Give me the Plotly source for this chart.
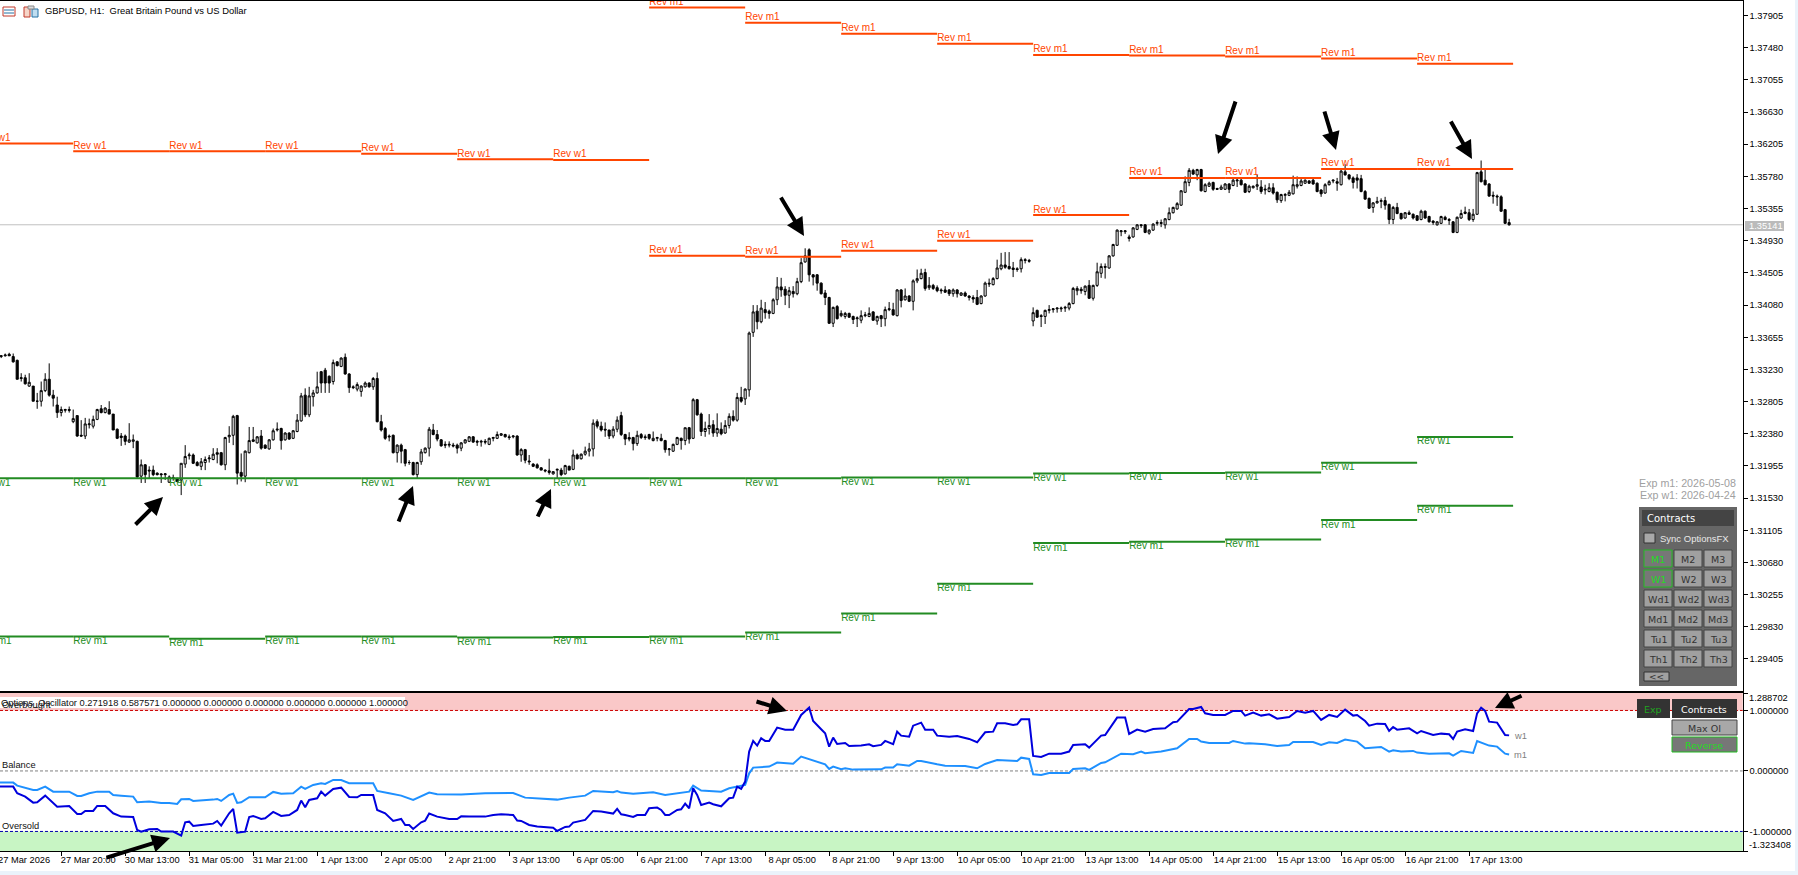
import numpy as np
import plotly.graph_objects as go

W, H = 1798, 875
FONT = "Liberation Sans"
BTN_FONT = "DejaVu Sans"

# H1 candles, bar numbers 0..378, prices in 1/10000
opens = [
    13340,13340,13341,13343,13340,13335,13311,13312,13301,13301,
    13281,13281,13295,13310,13289,13276,13266,13269,13270,13254,
    13262,13236,13235,13250,13248,13257,13271,13266,13270,13264,
    13244,13235,13235,13227,13228,13228,13182,13197,13190,13190,
    13186,13185,13184,13174,13179,13179,13177,13198,13209,13210,
    13200,13195,13200,13205,13204,13213,13213,13197,13234,13236,
    13262,13187,13182,13213,13230,13226,13235,13223,13218,13230,
    13243,13245,13230,13239,13232,13241,13255,13289,13263,13287,
    13292,13320,13322,13314,13307,13333,13327,13339,13317,13300,
    13297,13294,13300,13305,13300,13311,13254,13245,13235,13236,
    13213,13223,13217,13200,13200,13184,13201,13213,13219,13243,
    13237,13230,13224,13223,13223,13223,13219,13226,13228,13234,
    13228,13227,13228,13224,13232,13232,13236,13237,13234,13234,
    13235,13210,13217,13202,13198,13197,13193,13190,13189,13185,
    13190,13190,13185,13195,13191,13210,13205,13211,13215,13218,
    13254,13248,13244,13243,13235,13244,13262,13237,13233,13233,
    13225,13237,13234,13237,13229,13232,13232,13229,13217,13215,
    13224,13232,13229,13246,13232,13283,13264,13241,13245,13250,
    13239,13244,13239,13249,13261,13256,13286,13284,13296,13372,
    13400,13386,13402,13400,13397,13415,13432,13429,13421,13426,
    13423,13439,13465,13481,13448,13448,13437,13424,13418,13384,
    13406,13394,13393,13397,13393,13390,13388,13394,13393,13399,
    13387,13394,13390,13402,13402,13394,13428,13415,13420,13413,
    13440,13443,13451,13431,13434,13431,13428,13428,13428,13423,
    13428,13421,13424,13420,13418,13418,13410,13420,13437,13435,
    13443,13456,13461,13459,13457,13456,13456,13468,13467,13387,
    13401,13394,13393,13401,13402,13403,13403,13404,13404,13410,
    13427,13429,13426,13434,13417,13434,13450,13459,13457,13473,
    13487,13505,13505,13498,13498,13508,13514,13514,13503,13507,
    13516,13517,13514,13521,13530,13535,13540,13557,13570,13586,
    13580,13587,13558,13565,13570,13562,13561,13561,13568,13566,
    13572,13573,13568,13558,13563,13565,13564,13560,13558,13563,
    13557,13546,13553,13553,13555,13565,13566,13569,13572,13573,
    13569,13560,13556,13567,13572,13571,13567,13584,13580,13576,
    13576,13575,13558,13549,13537,13543,13545,13546,13541,13521,
    13537,13529,13523,13530,13528,13526,13521,13532,13525,13519,
    13514,13516,13524,13521,13518,13504,13523,13529,13530,13521,
    13528,13584,13573,13568,13553,13552,13551,13534,13517,
]
highs = [
    13343,13342,13344,13345,13344,13336,13318,13316,13318,13301,
    13292,13307,13318,13331,13296,13287,13274,13271,13274,13270,
    13262,13256,13259,13258,13262,13271,13276,13273,13281,13264,
    13245,13239,13237,13252,13237,13229,13204,13198,13195,13196,
    13187,13186,13186,13183,13184,13180,13199,13223,13213,13212,
    13202,13206,13208,13210,13219,13219,13214,13234,13248,13263,
    13263,13212,13216,13247,13247,13235,13243,13224,13231,13245,
    13253,13246,13240,13240,13243,13264,13292,13298,13300,13296,
    13320,13321,13325,13315,13336,13334,13339,13344,13318,13302,
    13306,13302,13307,13306,13313,13319,13263,13247,13237,13237,
    13224,13225,13218,13203,13201,13201,13218,13220,13247,13251,
    13243,13231,13228,13228,13226,13225,13227,13231,13235,13235,
    13230,13230,13231,13233,13234,13241,13239,13238,13237,13236,
    13236,13219,13218,13210,13199,13199,13194,13191,13205,13188,
    13192,13193,13197,13196,13217,13212,13212,13221,13226,13257,
    13257,13254,13253,13243,13248,13261,13267,13238,13240,13234,
    13242,13239,13237,13238,13241,13234,13238,13230,13219,13225,
    13234,13233,13246,13247,13285,13284,13266,13254,13264,13256,
    13265,13253,13256,13265,13269,13292,13300,13298,13373,13408,
    13408,13415,13412,13402,13417,13445,13444,13433,13432,13433,
    13444,13470,13483,13483,13449,13449,13438,13428,13419,13406,
    13408,13401,13399,13398,13394,13393,13401,13399,13405,13400,
    13394,13395,13406,13412,13411,13429,13429,13430,13421,13442,
    13455,13456,13456,13445,13436,13434,13430,13433,13429,13430,
    13429,13425,13426,13421,13421,13428,13421,13439,13443,13445,
    13468,13477,13478,13478,13465,13458,13471,13470,13469,13405,
    13402,13396,13402,13408,13404,13405,13406,13407,13412,13432,
    13433,13432,13434,13441,13435,13464,13463,13463,13474,13489,
    13508,13507,13507,13501,13511,13515,13515,13515,13508,13516,
    13520,13521,13523,13537,13538,13544,13560,13578,13589,13588,
    13588,13588,13569,13571,13571,13563,13567,13569,13569,13577,
    13576,13576,13569,13567,13566,13580,13573,13567,13569,13569,
    13558,13555,13556,13560,13579,13578,13576,13574,13573,13576,
    13570,13561,13569,13573,13574,13576,13587,13594,13581,13578,
    13581,13580,13560,13550,13544,13551,13549,13551,13542,13539,
    13543,13530,13531,13533,13529,13527,13534,13533,13526,13520,
    13519,13526,13526,13523,13519,13525,13534,13538,13535,13535,
    13584,13599,13587,13569,13558,13554,13553,13535,13522,
]
lows = [
    13339,13338,13340,13341,13332,13310,13307,13303,13300,13281,
    13271,13274,13293,13287,13274,13259,13261,13266,13266,13252,
    13234,13234,13231,13245,13245,13256,13265,13265,13264,13243,
    13231,13222,13223,13226,13219,13180,13173,13173,13179,13182,
    13183,13173,13177,13173,13176,13174,13157,13193,13204,13198,
    13195,13190,13190,13200,13203,13199,13196,13190,13226,13223,
    13171,13175,13174,13212,13227,13225,13217,13218,13217,13229,
    13241,13217,13229,13230,13231,13240,13254,13260,13260,13274,
    13291,13292,13292,13292,13303,13327,13326,13316,13292,13297,
    13294,13287,13299,13299,13296,13253,13241,13230,13228,13212,
    13200,13199,13195,13197,13183,13179,13197,13212,13208,13236,
    13228,13221,13219,13220,13220,13212,13215,13225,13227,13226,
    13222,13221,13224,13223,13228,13231,13235,13233,13230,13232,
    13209,13201,13199,13197,13194,13192,13190,13187,13184,13184,
    13179,13182,13184,13190,13190,13204,13204,13209,13208,13208,
    13245,13241,13234,13231,13232,13240,13235,13223,13228,13216,
    13222,13231,13230,13230,13228,13228,13228,13213,13209,13214,
    13223,13217,13223,13225,13231,13262,13235,13234,13237,13234,
    13234,13236,13238,13245,13254,13254,13279,13276,13287,13366,
    13376,13384,13390,13390,13396,13408,13419,13408,13404,13418,
    13421,13437,13464,13439,13434,13427,13422,13408,13383,13379,
    13389,13392,13390,13391,13383,13379,13384,13392,13392,13387,
    13382,13379,13380,13400,13394,13393,13405,13414,13412,13401,
    13437,13442,13427,13428,13428,13425,13423,13424,13420,13419,
    13418,13420,13419,13414,13411,13408,13409,13419,13432,13434,
    13442,13454,13456,13455,13445,13452,13451,13463,13464,13380,
    13391,13379,13383,13397,13398,13398,13399,13399,13401,13409,
    13421,13423,13421,13416,13414,13432,13444,13443,13456,13472,
    13486,13499,13502,13492,13497,13507,13510,13503,13501,13506,
    13513,13511,13509,13520,13529,13534,13539,13556,13565,13580,
    13573,13558,13557,13564,13559,13560,13560,13560,13556,13565,
    13564,13566,13556,13556,13562,13560,13555,13554,13557,13554,
    13543,13543,13545,13552,13554,13562,13565,13568,13568,13567,
    13557,13551,13555,13566,13569,13559,13566,13579,13573,13562,
    13562,13557,13547,13535,13530,13542,13536,13534,13515,13515,
    13528,13521,13522,13527,13521,13519,13520,13522,13517,13514,
    13513,13515,13520,13514,13503,13503,13522,13528,13519,13518,
    13527,13570,13566,13551,13542,13539,13531,13515,13513,
]
closes = [
    13341,13341,13342,13341,13333,13310,13312,13304,13306,13281,
    13281,13295,13310,13289,13285,13266,13270,13270,13269,13258,
    13235,13235,13251,13251,13257,13270,13266,13272,13264,13243,
    13232,13233,13228,13230,13230,13181,13197,13184,13189,13184,
    13184,13184,13185,13181,13180,13175,13199,13208,13210,13199,
    13196,13201,13204,13206,13211,13211,13197,13233,13236,13261,
    13186,13182,13215,13229,13228,13234,13219,13219,13230,13242,
    13244,13229,13239,13231,13242,13256,13288,13263,13288,13292,
    13300,13305,13305,13305,13332,13328,13338,13317,13299,13299,
    13303,13301,13305,13300,13311,13254,13243,13232,13234,13213,
    13223,13215,13199,13200,13184,13200,13214,13219,13244,13237,
    13231,13222,13223,13224,13222,13219,13226,13230,13234,13227,
    13227,13228,13227,13232,13233,13237,13238,13234,13233,13235,
    13210,13217,13203,13201,13195,13193,13190,13189,13187,13188,
    13191,13184,13196,13190,13210,13205,13211,13215,13218,13252,
    13248,13243,13243,13235,13244,13256,13237,13231,13231,13225,
    13236,13233,13233,13232,13232,13233,13229,13217,13218,13224,
    13233,13229,13246,13231,13283,13263,13241,13245,13249,13239,
    13245,13238,13249,13261,13256,13286,13281,13297,13371,13399,
    13386,13404,13398,13397,13415,13432,13428,13421,13427,13423,
    13439,13464,13473,13448,13445,13437,13423,13418,13384,13405,
    13390,13397,13397,13392,13389,13391,13394,13395,13397,13388,
    13393,13390,13402,13403,13395,13428,13414,13420,13413,13440,
    13443,13450,13430,13434,13430,13427,13427,13425,13423,13428,
    13423,13424,13420,13418,13416,13409,13420,13437,13436,13443,
    13457,13461,13458,13456,13455,13455,13468,13467,13466,13398,
    13392,13393,13401,13402,13403,13404,13404,13405,13410,13430,
    13430,13427,13433,13417,13434,13452,13459,13458,13473,13488,
    13507,13506,13506,13496,13510,13514,13513,13504,13507,13515,
    13517,13516,13522,13530,13537,13542,13559,13571,13586,13581,
    13587,13559,13567,13569,13561,13561,13564,13568,13561,13573,
    13573,13567,13557,13565,13565,13567,13558,13561,13563,13556,
    13547,13554,13554,13557,13567,13567,13572,13573,13569,13568,
    13558,13555,13567,13571,13573,13569,13585,13580,13575,13570,
    13573,13558,13548,13536,13543,13545,13546,13540,13521,13537,
    13529,13522,13530,13528,13523,13520,13532,13523,13518,13517,
    13518,13525,13521,13520,13504,13524,13529,13531,13521,13528,
    13583,13571,13567,13552,13552,13551,13532,13516,13514,
]

# contract levels, one per 24 bar block
block_edges = [-5, 19, 43, 67, 91, 115, 139, 163, 187, 211, 235, 259, 283, 307, 331, 355, 379]
rev_w1_high = [1.36216, 1.36111, 1.36111, 1.36111, 1.36080, 1.36005, 1.35997, 1.34733,
               1.34719, 1.34799, 1.34931, 1.35270, 1.35759, 1.35759, 1.35878, 1.35878]
rev_m1_high = [None, None, None, None, None, None, None, 1.38010, 1.37811, 1.37665,
               1.37533, 1.37384, 1.37377, 1.37364, 1.37338, 1.37269]
rev_w1_low = [1.31792, 1.31792, 1.31792, 1.31792, 1.31792, 1.31792, 1.31792, 1.31792,
              1.31792, 1.31804, 1.31804, 1.31854, 1.31862, 1.31869, 1.31998, 1.32339]
rev_m1_low = [1.29702, 1.29702, 1.29672, 1.29702, 1.29702, 1.29688, 1.29696, 1.29702,
              1.29756, 1.30006, 1.30400, 1.30937, 1.30952, 1.30982, 1.31241, 1.31430]

last_price = 1.35141

# oscillator vertices, bar number and value
w1_bars = [
    0,4,5,7,9,10,12,15,18,20,21,22,24,25,27,29,31,34,35,36,38,40,41,44,46,47,48,49,51,54,55,56,58,59,60,62,63,64,66,67,
    69,71,73,75,76,77,78,80,81,82,84,86,88,90,91,94,95,97,99,101,102,103,104,106,107,108,110,113,115,116,118,122,124,
    126,129,130,131,133,135,139,140,142,143,144,147,149,
    151,153,154,155,156,157,159,160,162,163,165,166,167,168,170,171,172,173,174,175,176,178,179,181,183,184,185,186,187,
    188,189,190,191,192,193,195,197,199,201,203,204,206,207,208,209,210,212,213,216,218,219,221,222,224,225,226,228,229,
    231,232,234,235,238,240,243,245,247,249,250,252,254,255,256,258,259,261,263,266,268,269,272,273,276,277,280,282,283,
    285,287,289,292,294,295,298,299,
    301,302,304,307,309,311,312,314,316,318,320,323,325,327,329,331,333,335,337,339,340,342,343,345,347,348,349,350,353,
    355,356,359,361,363,364,365,367,369,370,371,372,373,375,377,378,
]
w1_values = [
    -.259,-.259,-.369,-.424,-.524,-.518,-.408,-.590,-.579,-.711,-.711,-.661,-.661,-.579,-.579,-.700,-.755,-.761,-.975,-1.003,
    -.964,-.959,-1.003,-1.003,-1.069,-.849,-.838,-.909,-.893,-.871,-.827,-.904,-.700,-.628,-1.020,-1.003,-.761,-.744,-.794,-.783,
    -.678,-.744,-.728,-.645,-.490,-.601,-.479,-.452,-.342,-.408,-.298,-.276,-.430,-.435,-.397,-.397,-.645,-.700,-.827,-.794,
    -.893,-.893,-.959,-.849,-.821,-.705,-.755,-.794,-.794,-.750,-.755,-.755,-.728,-.717,-.728,-.821,-.827,-.893,-.920,-.937,
    -.992,-.926,-.920,-.854,-.810,-.661,
    -.672,-.700,-.705,-.628,-.717,-.728,-.761,-.728,-.728,-.617,-.606,-.645,-.728,-.728,-.645,-.634,-.540,-.617,-.287,-.397,
    -.562,-.524,-.551,-.584,-.452,-.441,-.259,-.298,-.176,.320,.496,.419,.540,.496,.496,.716,.683,.683,.926,1.047,
    .826,.689,.623,.402,.551,.446,.463,.413,.419,.441,.408,.430,.496,.441,.650,.584,.567,.749,.799,.683,
    .683,.584,.567,.578,.529,.474,.639,.650,.788,.788,.760,.771,.854,.854,.248,.231,.286,.286,.320,.430,
    .441,.386,.584,.595,.882,.882,.612,.683,.650,.694,.705,.804,.815,1.025,1.025,
    1.058,.953,.926,.926,.992,.992,.915,.964,.915,.937,.865,.893,.992,.964,.992,.843,.926,.893,1.014,.915,
    .926,.826,.749,.782,.777,.661,.727,.683,.705,.623,.661,.595,.617,.606,.529,.650,.689,.661,.953,1.047,
    .992,.815,.799,.595,.588,
]
m1_bars = [
    0,4,5,7,9,10,12,14,18,20,21,23,25,28,29,31,34,35,38,41,43,45,46,48,49,54,55,56,58,59,60,61,63,67,69,71,74,76,77,79,
    81,82,84,86,88,94,95,98,101,104,106,108,110,116,122,129,132,134,138,139,140,143,147,149,
    151,154,155,156,159,164,167,170,173,174,176,181,183,187,188,189,191,193,195,199,201,203,207,208,209,211,212,214,221,
    222,224,225,228,230,231,235,237,242,245,247,250,255,256,258,259,261,263,268,269,272,273,276,277,281,284,286,287,291,
    295,298,300,
    301,303,308,309,312,313,317,320,323,324,329,331,333,335,337,340,342,346,348,349,351,354,355,358,363,364,366,369,370,
    373,375,377,378,
]
m1_values = [
    -.193,-.193,-.243,-.276,-.314,-.314,-.259,-.342,-.342,-.413,-.413,-.369,-.342,-.342,-.397,-.408,-.424,-.518,-.507,-.529,
    -.529,-.546,-.468,-.463,-.496,-.474,-.463,-.496,-.397,-.375,-.529,-.518,-.435,-.435,-.347,-.375,-.369,-.259,-.298,-.232,
    -.204,-.215,-.149,-.149,-.204,-.204,-.331,-.369,-.408,-.479,-.424,-.358,-.386,-.391,-.369,-.364,-.441,-.452,-.474,-.468,
    -.474,-.441,-.408,-.331,
    -.342,-.353,-.331,-.358,-.375,-.353,-.397,-.369,-.342,-.243,-.325,-.342,-.287,-.232,-.039,.055,.066,.072,.138,.121,
    .237,.198,.110,.033,.072,.027,.044,.022,.027,.055,.055,.110,.088,.165,.165,.110,.088,.083,.044,.116,
    .182,.165,.220,.198,-.055,-.066,-.033,-.033,.033,.044,.016,.132,.143,.286,.275,.320,.292,.320,.375,.529,
    .529,
    .485,.463,.463,.496,.452,.457,.441,.413,.430,.479,.479,.430,.474,.463,.518,.485,.375,.397,.320,.342,
    .320,.331,.303,.286,.292,.253,.331,.297,.496,.419,.402,.286,.272,
]

x_ticks = list(range(16, 369, 16))
x_labels = ["27 Mar 20:00", "30 Mar 13:00", "31 Mar 05:00", "31 Mar 21:00", "1 Apr 13:00", "2 Apr 05:00",
            "2 Apr 21:00", "3 Apr 13:00", "6 Apr 05:00", "6 Apr 21:00", "7 Apr 13:00", "8 Apr 05:00",
            "8 Apr 21:00", "9 Apr 13:00", "10 Apr 05:00", "10 Apr 21:00", "13 Apr 13:00", "14 Apr 05:00",
            "14 Apr 21:00", "15 Apr 13:00", "16 Apr 05:00", "16 Apr 21:00", "17 Apr 13:00"]
price_ticks = [1.37905, 1.37480, 1.37055, 1.36630, 1.36205, 1.35780, 1.35355, 1.34930, 1.34505, 1.34080,
               1.33655, 1.33230, 1.32805, 1.32380, 1.31955, 1.31530, 1.31105, 1.30680, 1.30255, 1.29830, 1.29405]

ORANGE = "#FF4500"
GREEN = "#228B22"


def px_x(v):
    return v / W


def px_y(v):
    return 1 - v / H


def level_traces(levels, color, name, pos):
    xs, ys, tx, ty = [], [], [], []
    for k, lv in enumerate(levels):
        if lv is None:
            continue
        xs += [block_edges[k], block_edges[k + 1], None]
        ys += [lv, lv, None]
        tx.append(block_edges[k])
        ty.append(lv)
    line = go.Scatter(x=xs, y=ys, mode="lines", line=dict(color=color, width=2), hoverinfo="skip")
    text = go.Scatter(x=tx, y=ty, mode="text", text=[name] * len(tx), textposition=pos,
                      textfont=dict(family=FONT, size=10, color=color), hoverinfo="skip")
    return [line, text]


fig = go.Figure()

for tr in (level_traces(rev_w1_high, ORANGE, "Rev w1", "top right")
           + level_traces(rev_m1_high, ORANGE, "Rev m1", "top right")
           + level_traces(rev_w1_low, GREEN, "Rev w1", "bottom right")
           + level_traces(rev_m1_low, GREEN, "Rev m1", "bottom right")):
    fig.add_trace(tr)

bars = list(range(len(opens)))
fig.add_trace(go.Candlestick(
    x=bars,
    open=np.array(opens) / 10000,
    high=np.array(highs) / 10000,
    low=np.array(lows) / 10000,
    close=np.array(closes) / 10000,
    whiskerwidth=0,
    increasing=dict(line=dict(color="black", width=1), fillcolor="white"),
    decreasing=dict(line=dict(color="black", width=1), fillcolor="black"),
    xaxis="x", yaxis="y",
))

fig.add_trace(go.Scatter(x=m1_bars, y=m1_values, mode="lines", line=dict(color="#1E90FF", width=2),
                         xaxis="x2", yaxis="y2"))
fig.add_trace(go.Scatter(x=w1_bars, y=w1_values, mode="lines", line=dict(color="#0000DD", width=2),
                         xaxis="x2", yaxis="y2"))

shapes = []
annotations = []


def box(x0, y0, x1, y1, fill, line=None, lw=1, layer="above"):
    shapes.append(dict(type="rect", xref="paper", yref="paper", x0=px_x(x0), x1=px_x(x1), y0=px_y(y0), y1=px_y(y1),
                       fillcolor=fill, line=dict(color=line or fill, width=lw if line else 0), layer=layer))


def label(x, y, text, color="black", size=9.3, anchor="left", family=FONT, bg=None):
    annotations.append(dict(xref="paper", yref="paper", x=px_x(x), y=px_y(y), text=text, showarrow=False,
                            xanchor=anchor, yanchor="middle", borderpad=0, bgcolor=bg,
                            font=dict(family=family, size=size, color=color)))


def arrow(tip_x, tip_y, tail_x, tail_y):
    annotations.append(dict(xref="paper", yref="paper", x=px_x(tip_x), y=px_y(tip_y), ax=tail_x - tip_x,
                            ay=tail_y - tip_y, axref="pixel", ayref="pixel", text="", showarrow=True,
                            arrowhead=2, arrowsize=0.9, arrowwidth=4, arrowcolor="black"))


# strips around the chart
box(1795, 0, 1798, 875, "#EAF3FB")
box(0, 871, 1798, 875, "#EAF3FB")

# oscillator zones
for y0, y1, col in [(1, 1.288702, "#FAC8C8"), (-1.323408, -1, "#C8F5C4")]:
    shapes.append(dict(type="rect", xref="x2 domain", yref="y2", x0=0, x1=1, y0=y0, y1=y1, fillcolor=col,
                       line=dict(width=0), layer="below"))
for lv, col in [(1, "#CC0000"), (0, "#808080"), (-1, "#0000AA")]:
    shapes.append(dict(type="line", xref="x2 domain", yref="y2", x0=0, x1=1, y0=lv, y1=lv,
                       line=dict(color=col, width=1, dash="3px,2px"), layer="below"))

# last price line
shapes.append(dict(type="line", xref="x domain", yref="y", x0=0, x1=1, y0=last_price, y1=last_price,
                   line=dict(color="#C0C0C0", width=1), layer="below"))
box(1745, 221, 1784, 231, "#BBBBBB")
label(1748, 226, f"{last_price:.5f}", "white")

# header
box(3, 7, 15, 16, "white", "#C0392B")
for yy in (10, 13):
    shapes.append(dict(type="line", xref="paper", yref="paper", x0=px_x(4), x1=px_x(14), y0=px_y(yy), y1=px_y(yy),
                       line=dict(color="#2471A3", width=1)))
box(24, 7, 30, 17, "#F6D5C8", "#C0392B")
box(32, 9, 38, 17, "#BFDDF0", "#2471A3")
box(28, 6, 34, 9, "#DDDDDD", "#888888")
label(44, 11, "GBPUSD, H1:  Great Britain Pound vs US Dollar", "black", 9.4)

# oscillator texts
box(0, 697, 405, 708, "white")
label(0, 703, "Options_Oscillator 0.271918 0.587571 0.000000 0.000000 0.000000 0.000000 0.000000 1.000000", "#111111")
label(1, 705, "Overbought", "#111111")
label(1, 765, "Balance", "#111111")
label(1, 826, "Oversold", "#111111")
label(1513, 736, "w1", "#808080")
label(1513, 755, "m1", "#808080")
label(1748, 698, "1.288702")
label(1748, 845, "-1.323408")
label(-3, 860, "27 Mar 2026")

# expiry and contracts panel
label(1737, 483, "Exp m1: 2026-05-08", "#A0A0A0", 10.7, "right")
label(1737, 495, "Exp w1: 2026-04-24", "#A0A0A0", 10.7, "right")
box(1639, 507, 1737, 686, "#666666")
box(1642, 510, 1734, 526, "#444444")
label(1646, 518, "Contracts", "white", 10, family=BTN_FONT)
box(1644, 533, 1655, 543, "#A8A8A8", "#333333")
label(1659, 538, "Sync OptionsFX", "#E8E8E8", 9.5)

button_rows = [["M1", "M2", "M3"], ["W1", "W2", "W3"], ["Wd1", "Wd2", "Wd3"],
               ["Md1", "Md2", "Md3"], ["Tu1", "Tu2", "Tu3"], ["Th1", "Th2", "Th3"]]
for r, row in enumerate(button_rows):
    top = 550 + 20 * r
    for c, name in enumerate(row):
        left = 1644 + 30 * c
        active = name in ("M1", "W1")
        box(left, top, left + 28, top + 17, "#777777" if active else "#A0A0A0", "#22BB22" if active else "#444444")
        label(left + 14, top + 9, name, "#22DD22" if active else "#333333", 9.5, "center", BTN_FONT)
box(1644, 672, 1669, 681, "#A0A0A0", "#333333")
label(1656, 677, "<<", "#333333", 9, "center", BTN_FONT)

box(1637, 699, 1670, 718, "#333333")
label(1653, 709, "Exp", "#1FA51F", 9.5, "center", BTN_FONT)
box(1672, 699, 1737, 718, "#333333")
label(1704, 709, "Contracts", "white", 9.5, "center", BTN_FONT)
box(1672, 720, 1737, 735, "#A8A8A8", "#444444")
label(1704, 728, "Max OI", "#333333", 9.5, "center", BTN_FONT)
box(1672, 737, 1737, 752, "#777777", "#22BB22")
label(1704, 745, "Reverse", "#22DD22", 9.5, "center", BTN_FONT)

# hand drawn arrows
arrow(163, 497, 134, 526)
arrow(413, 486, 398, 523)
arrow(551, 489, 537, 518)
arrow(804, 236, 780, 196)
arrow(1218, 154, 1236, 100)
arrow(1336, 150, 1324, 110)
arrow(1472, 159, 1450, 120)
arrow(787, 711, 755, 701)
arrow(170, 838, 105, 858)
arrow(1495, 708, 1523, 695)

x_range = [0.7, 436.4]
axis_font = dict(family=FONT, size=9.3, color="black")

fig.update_layout(
    width=W, height=H,
    margin=dict(l=0, r=0, t=0, b=0),
    paper_bgcolor="white", plot_bgcolor="rgba(0,0,0,0)",
    showlegend=False, boxgap=0.25,
    shapes=shapes, annotations=annotations,
    xaxis=dict(domain=[0, px_x(1742.7)], range=x_range, anchor="y", showgrid=False, zeroline=False,
               showticklabels=False, ticks="", showline=True, mirror=True, linecolor="black", linewidth=1,
               rangeslider=dict(visible=False)),
    yaxis=dict(domain=[px_y(691), px_y(1)], range=[1.28982, 1.38097], anchor="x", side="right", showgrid=False,
               zeroline=False, tickvals=price_ticks, ticktext=[f"{t:.5f}" for t in price_ticks], ticks="outside",
               ticklen=4, tickcolor="black", tickfont=axis_font, showline=True, linecolor="black", linewidth=1),
    xaxis2=dict(domain=[0, px_x(1742.7)], range=x_range, anchor="y2", showgrid=False, zeroline=False,
                tickvals=x_ticks, ticktext=x_labels, ticks="outside", ticklen=4, tickcolor="black",
                tickfont=axis_font, ticklabelshift=27, ticklabelstandoff=-4, showline=True, mirror=True,
                linecolor="black", linewidth=1),
    yaxis2=dict(domain=[px_y(851), px_y(693)], range=[-1.323408, 1.288702], anchor="x2", side="right",
                showgrid=False, zeroline=False, tickvals=[1.288702, 1, 0, -1, -1.323408],
                ticktext=["", "1.000000", "0.000000", "-1.000000", ""], ticks="outside", ticklen=4,
                tickcolor="black", tickfont=axis_font, showline=True, linecolor="black", linewidth=1),
)

fig.write_html("out.html", config={"displayModeBar": False},
               post_script="document.body.style.margin='0';document.body.style.overflow='hidden';")
